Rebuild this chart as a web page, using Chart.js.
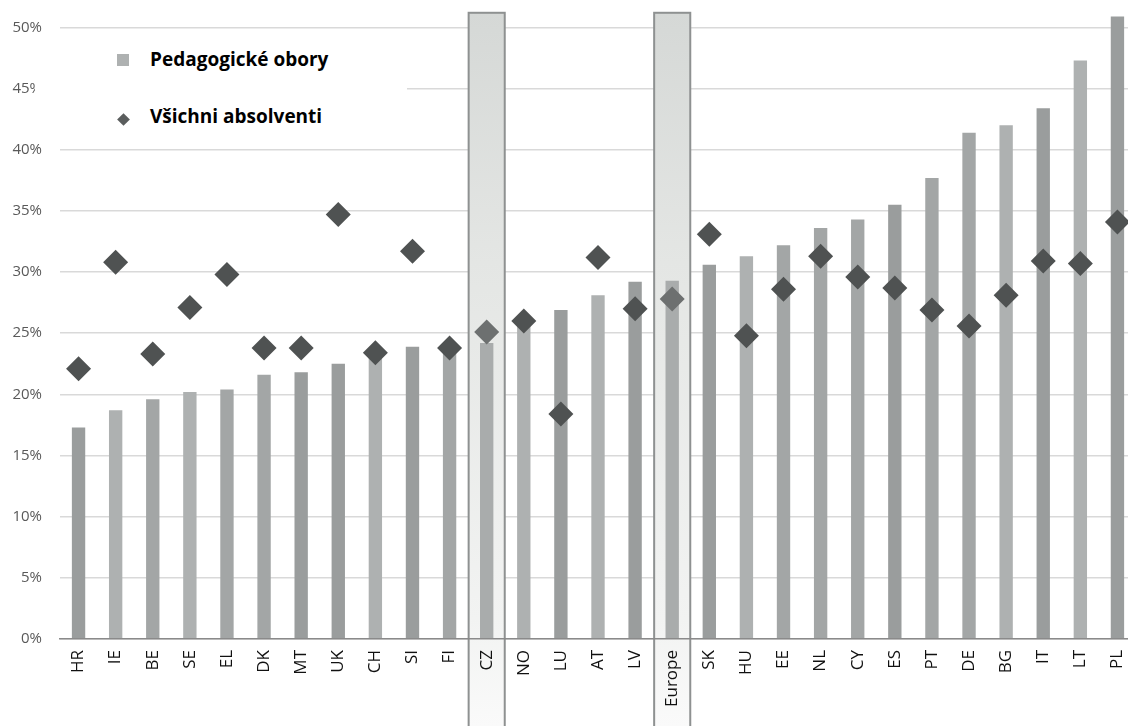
<!DOCTYPE html>
<html lang="cs">
<head>
    <meta charset="UTF-8">
    <title>Pedagogické obory vs. všichni absolventi</title>
    <script src="https://cdn.jsdelivr.net/npm/chart.js"></script>
    <style>
        html, body {
            margin: 0;
            padding: 0;
            background: #fff;
            overflow: hidden;
        }
        #wrap {
            position: relative;
            width: 1140px;
            height: 726px;
        }
        #legend {
            position: absolute;
            left: 35px;
            top: 34px;
            width: 372px;
            height: 108px;
            background: #fff;
            font-family: "Open Sans", sans-serif;
            font-weight: 700;
            font-size: 19px;
            color: #000;
        }
        .item {
            position: absolute;
            left: 115px;
            white-space: nowrap;
        }
        .square {
            position: absolute;
            left: 82px;
            width: 12px;
            height: 12px;
            background: #aeb1b1;
        }
        .diamond {
            position: absolute;
            left: 84px;
            width: 9px;
            height: 9px;
            background: #5a5d5d;
            transform: rotate(45deg);
        }
    </style>
</head>
<body>
    <div id="wrap">
        <canvas id="chart"></canvas>
        <div id="legend">
            <div class="square" style="top: 20px;"></div>
            <div class="item" style="top: 12px;">Pedagogické obory</div>
            <div class="diamond" style="top: 81px;"></div>
            <div class="item" style="top: 69px;">Všichni absolventi</div>
        </div>
    </div>

    <script>
        const countries = ['HR', 'IE', 'BE', 'SE', 'EL', 'DK', 'MT', 'UK', 'CH', 'SI', 'FI', 'CZ',
            'NO', 'LU', 'AT', 'LV', 'Europe', 'SK', 'HU', 'EE', 'NL', 'CY', 'ES', 'PT', 'DE', 'BG',
            'IT', 'LT', 'PL'];
        // Pedagogické obory (%)
        const teacherGrads = [17.3, 18.7, 19.6, 20.2, 20.4, 21.6, 21.8, 22.5, 23.3, 23.9, 23.9, 24.2,
            25.9, 26.9, 28.1, 29.2, 29.3, 30.6, 31.3, 32.2, 33.6, 34.3, 35.5, 37.7, 41.4, 42.0,
            43.4, 47.3, 50.9];
        // Všichni absolventi (%)
        const allGrads = [22.1, 30.8, 23.3, 27.1, 29.8, 23.8, 23.8, 34.7, 23.4, 31.7, 23.8, 25.1,
            26.0, 18.4, 31.2, 27.0, 27.8, 33.1, 24.8, 28.6, 31.3, 29.6, 28.7, 26.9, 25.6, 28.1,
            30.9, 30.7, 34.1];
        const yTicks = [0, 5, 10, 15, 20, 25, 30, 35, 40, 45, 50];
        const highlighted = ['CZ', 'Europe'];
        const highlightTop = 51.2;

        // the bars in the source picture come in a few slightly different greys
        const shade = { d: '#9a9d9d', m: '#a3a6a6', l: '#aeb1b1', h: '#a9acac' };
        const barShades = 'dlmlmmddldmhldldhdlmmmdmmldld'.split('').map(c => shade[c]);
        const pointColors = countries.map(c => highlighted.includes(c) ? '#6d7070' : '#4f5252');

        const highlightBoxes = {
            id: 'highlightBoxes',
            beforeDatasetsDraw(chart) {
                const { ctx, scales: { x, y } } = chart;
                const half = (x.getPixelForValue(1) - x.getPixelForValue(0)) / 2 - 0.5;
                const top = y.getPixelForValue(highlightTop);
                const bottom = chart.height;
                highlighted.forEach(label => {
                    const cx = x.getPixelForValue(countries.indexOf(label));
                    const grad = ctx.createLinearGradient(0, top, 0, bottom);
                    grad.addColorStop(0, '#d5d8d6');
                    grad.addColorStop(0.35, '#e4e6e4');
                    grad.addColorStop(0.85, '#f2f3f2');
                    grad.addColorStop(1, '#fafafa');
                    ctx.save();
                    ctx.fillStyle = grad;
                    ctx.fillRect(cx - half, top, half * 2, bottom - top);
                    ctx.strokeStyle = '#8e9191';
                    ctx.lineWidth = 2;
                    ctx.strokeRect(cx - half, top, half * 2, bottom - top + 4);
                    ctx.restore();
                });
            }
        };

        const ctx = document.getElementById('chart').getContext('2d');
        new Chart(ctx, {
            type: 'bar',
            data: {
                labels: countries,
                datasets: [{
                    type: 'line',
                    label: 'Všichni absolventi',
                    data: allGrads,
                    showLine: false,
                    pointStyle: 'rectRot',
                    pointRadius: 12.5,
                    pointBackgroundColor: pointColors,
                    pointBorderWidth: 0,
                    order: 1
                }, {
                    label: 'Pedagogické obory',
                    data: teacherGrads,
                    backgroundColor: barShades,
                    barPercentage: 0.36,
                    categoryPercentage: 1,
                    order: 2
                }]
            },
            options: {
                responsive: true,
                maintainAspectRatio: false,
                animation: false,
                layout: {
                    autoPadding: false,
                    padding: { top: 3, right: 4, left: 0, bottom: 0 }
                },
                plugins: {
                    legend: { display: false },
                    tooltip: { enabled: false }
                },
                scales: {
                    x: {
                        grid: { display: false, drawTicks: false },
                        border: { display: true, color: '#8a8a8a', width: 1.5, z: 1 },
                        ticks: {
                            z: 1,
                            minRotation: 90,
                            maxRotation: 90,
                            autoSkip: false,
                            padding: 11,
                            color: '#111',
                            font: { family: 'Open Sans', size: 17 }
                        },
                        afterFit(scale) {
                            scale.height = 87;
                            scale.paddingLeft = 0;
                            scale.paddingRight = 0;
                        }
                    },
                    y: {
                        min: 0,
                        max: 52,
                        grid: { color: '#d9d9d9', lineWidth: 1.5, drawTicks: false },
                        border: { display: false },
                        afterBuildTicks(scale) {
                            scale.ticks = yTicks.map(v => ({ value: v }));
                        },
                        ticks: {
                            padding: 18,
                            color: '#595959',
                            font: { family: 'Open Sans', size: 15 },
                            callback: v => v + '%'
                        },
                        afterFit(scale) {
                            scale.width = 60;
                            scale.paddingTop = 0;
                            scale.paddingBottom = 0;
                        }
                    }
                }
            },
            plugins: [highlightBoxes]
        });
    </script>
</body>
</html>
